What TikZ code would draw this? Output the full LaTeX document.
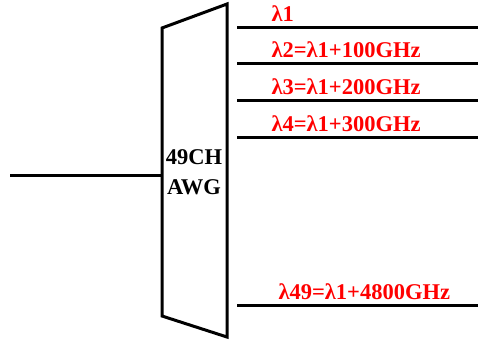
\documentclass[tikz,border=0pt]{standalone}
\usepackage{fontspec}
\setmainfont{Liberation Serif}
\usetikzlibrary{positioning}

\begin{document}
\begin{tikzpicture}[x=1pt, y=-1pt, line width=3pt,
		chlabel/.style={text=red, anchor=base west, inner sep=0pt,
			font=\bfseries\fontsize{22.5}{24}\selectfont},
		awglabel/.style={align=center, inner sep=0pt,
			font=\bfseries\fontsize{22.5}{30}\selectfont}]
		\useasboundingbox (0,0) rectangle (478,341);
		
		% Corners of the AWG body
		\coordinate (tl) at (162,28);
		\coordinate (tr) at (227,4);
		\coordinate (br) at (227,337);
		\coordinate (bl) at (162,316);
		\draw[line join=miter] (tl) -- (tr) -- (br) -- (bl) -- cycle;
		\node[awglabel] (awg) at (194,172) {49CH\\AWG};
		
		% Input fibre
		\coordinate (src) at (10,175);
		\draw (src) -- (src -| tl);
		
		% Output channels
		\foreach \y/\dx/\txt [count=\i] in {27/0/λ1, 63/0/λ2=λ1+100GHz, 100/0/λ3=λ1+200GHz,
			137/0/λ4=λ1+300GHz, 305/7/λ49=λ1+4800GHz} {
			\coordinate (ch\i) at (237,\y);
			\coordinate (end\i) at (478,\y);
			\draw (ch\i) -- (end\i);
			\node[chlabel] (lab\i) at (270+\dx,\y-6) {\txt};
		}
	\end{tikzpicture}
\end{document}
